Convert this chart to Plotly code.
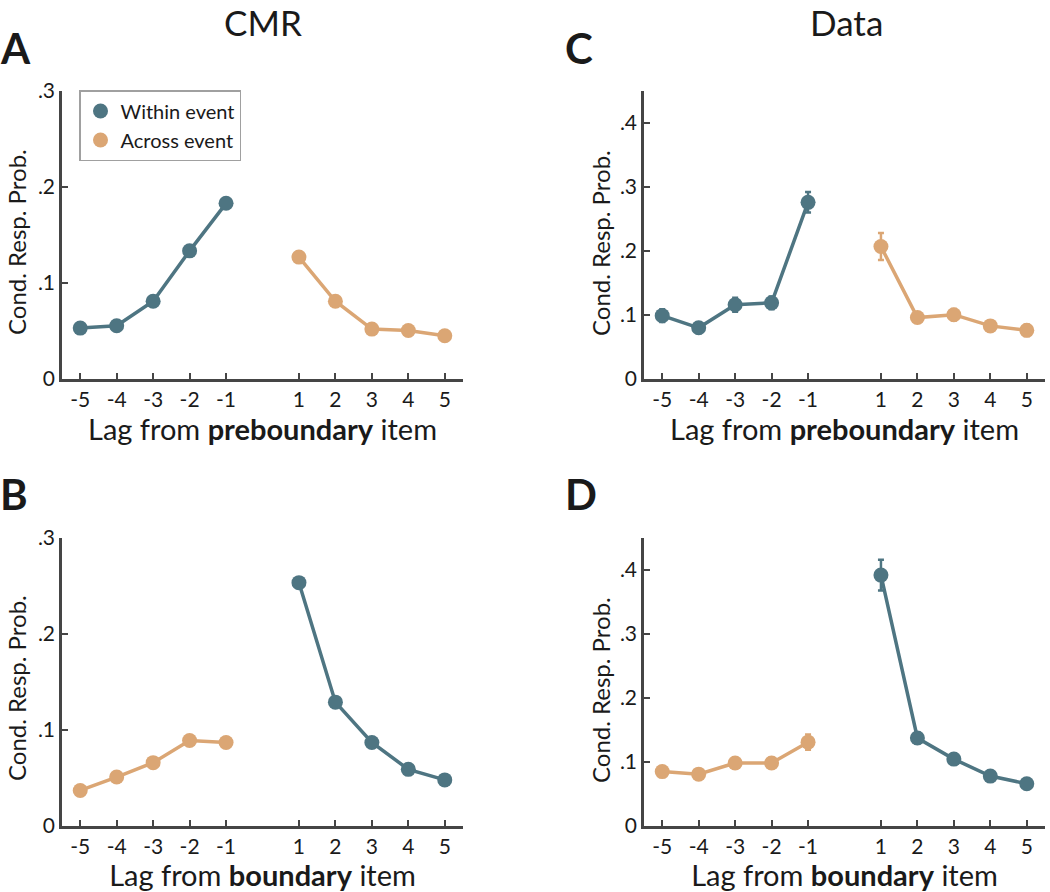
import plotly.graph_objects as go

# ---------------- data ----------------
lags_neg = [-5, -4, -3, -2, -1]
lags_pos = [1, 2, 3, 4, 5]
x_ticks = [-5, -4, -3, -2, -1, 1, 2, 3, 4, 5]

# Panel A: CMR, lag from preboundary item
A_within = [0.053, 0.0555, 0.081, 0.1335, 0.183]   # lags -5..-1
A_across = [0.127, 0.081, 0.052, 0.0505, 0.045]    # lags 1..5

# Panel B: CMR, lag from boundary item
B_across = [0.037, 0.051, 0.066, 0.089, 0.087]     # lags -5..-1
B_within = [0.2535, 0.129, 0.087, 0.059, 0.048]    # lags 1..5

# Panel C: Data, lag from preboundary item
C_within = [0.099, 0.080, 0.116, 0.119, 0.276]
C_within_err = [0.010, 0.008, 0.011, 0.010, 0.016]
C_across = [0.207, 0.096, 0.1005, 0.083, 0.076]
C_across_err = [0.021, 0.007, 0.009, 0.008, 0.009]

# Panel D: Data, lag from boundary item
D_across = [0.085, 0.081, 0.0985, 0.0985, 0.131]
D_across_err = [0.007, 0.007, 0.008, 0.008, 0.012]
D_within = [0.392, 0.1375, 0.1045, 0.078, 0.066]
D_within_err = [0.024, 0.009, 0.007, 0.005, 0.005]

cmr_yticks = [0, 0.1, 0.2, 0.3]
cmr_yticktext = ["0", ".1", ".2", ".3"]
data_yticks = [0, 0.1, 0.2, 0.3, 0.4]
data_yticktext = ["0", ".1", ".2", ".3", ".4"]

Y_TITLE = "Cond. Resp. Prob."

# ---------------- style ----------------
W, H = 1050, 892
TEAL = "#4e7582"
TAN = "#dba674"
AXC = "#454545"
TXT = "#1a1a1a"
FONT = "Lato"

def px_x(a, b):
    return [a / W, b / W]

def px_y(top, bottom):
    return [1 - bottom / H, 1 - top / H]

fig = go.Figure()

panels = [
    ("", px_x(62, 463), px_y(91, 379), [0, 0.3], cmr_yticks, cmr_yticktext,
     [(lags_neg, A_within, None, TEAL), (lags_pos, A_across, None, TAN)],
     "Lag from <b>preboundary</b> item"),
    ("2", px_x(644, 1045), px_y(91, 379), [0, 0.45], data_yticks, data_yticktext,
     [(lags_neg, C_within, C_within_err, TEAL), (lags_pos, C_across, C_across_err, TAN)],
     "Lag from <b>preboundary</b> item"),
    ("3", px_x(62, 463), px_y(538, 826), [0, 0.3], cmr_yticks, cmr_yticktext,
     [(lags_neg, B_across, None, TAN), (lags_pos, B_within, None, TEAL)],
     "Lag from <b>boundary</b> item"),
    ("4", px_x(644, 1045), px_y(538, 826), [0, 0.45], data_yticks, data_yticktext,
     [(lags_neg, D_across, D_across_err, TAN), (lags_pos, D_within, D_within_err, TEAL)],
     "Lag from <b>boundary</b> item"),
]

for name, xd, yd, yr, yt, ytt, series, xtitle in panels:
    xa = "x" + name
    ya = "y" + name
    for xs, ys, errs, col in series:
        tr = dict(
            x=xs, y=ys, mode="lines+markers", xaxis=xa, yaxis=ya,
            line=dict(color=col, width=3.5),
            marker=dict(color=col, size=15),
            showlegend=False, hoverinfo="x+y",
        )
        if errs is not None:
            tr["error_y"] = dict(type="data", array=errs, visible=True,
                                 color=col, thickness=2.5, width=3)
        fig.add_trace(go.Scatter(**tr))

    axis_common = dict(
        showline=True, linecolor=AXC, linewidth=2.5,
        ticks="inside", tickcolor=AXC, tickwidth=2, ticklen=6,
        showgrid=False, zeroline=False, automargin=False,
        tickfont=dict(family=FONT, size=21, color=TXT),
    )
    fig.layout["xaxis" + name] = dict(
        domain=xd, anchor=ya, range=[-5.5, 5.5],
        tickmode="array", tickvals=x_ticks, ticktext=[str(v) for v in x_ticks],
        ticklabelstandoff=0,
        title=dict(text=xtitle, font=dict(family=FONT, size=29, color=TXT), standoff=2),
        **axis_common,
    )
    fig.layout["yaxis" + name] = dict(
        domain=yd, anchor=xa, range=yr,
        tickmode="array", tickvals=yt, ticktext=ytt,
        ticklabelstandoff=0,
        **axis_common,
    )

# legend-only entries (marker symbols only, as in the original)
fig.add_trace(go.Scatter(x=[None], y=[None], mode="markers", name="Within event",
                         marker=dict(color=TEAL, size=15), xaxis="x", yaxis="y"))
fig.add_trace(go.Scatter(x=[None], y=[None], mode="markers", name="Across event",
                         marker=dict(color=TAN, size=15), xaxis="x", yaxis="y"))

annotations = [
    dict(text="CMR", x=263 / W, y=1 - 22 / H, xref="paper", yref="paper",
         showarrow=False, font=dict(family=FONT, size=35, color=TXT),
         xanchor="center", yanchor="middle"),
    dict(text="Data", x=846 / W, y=1 - 22 / H, xref="paper", yref="paper",
         showarrow=False, font=dict(family=FONT, size=35, color=TXT),
         xanchor="center", yanchor="middle"),
]
for letter, lx, ly in [("A", -2, 48), ("C", 563, 48), ("B", -2, 494), ("D", 563, 494)]:
    annotations.append(dict(
        text="<b>" + letter + "</b>", x=lx / W, y=1 - ly / H, xref="paper", yref="paper",
        showarrow=False, font=dict(family=FONT, size=42, color=TXT),
        xanchor="left", yanchor="middle"))
# y-axis titles
for tx, ty in [(16, 242), (600, 243), (16, 688), (600, 690)]:
    annotations.append(dict(
        text=Y_TITLE, x=tx / W, y=1 - ty / H, xref="paper", yref="paper",
        showarrow=False, textangle=-90, font=dict(family=FONT, size=24, color=TXT),
        xanchor="center", yanchor="middle"))

fig.update_layout(
    template="none",
    width=W, height=H,
    margin=dict(l=0, r=0, t=0, b=0, pad=0, autoexpand=False),
    paper_bgcolor="white", plot_bgcolor="white",
    font=dict(family=FONT, color=TXT),
    annotations=annotations,
    legend=dict(
        x=79 / W, y=1 - 90 / H, xanchor="left", yanchor="top",
        bordercolor="#a0a0a0", borderwidth=1.5, bgcolor="white",
        font=dict(family=FONT, size=20, color=TXT),
        itemwidth=30, tracegroupgap=0,
    ),
)

fig.write_html(
    "out.html",
    config={"displayModeBar": False},
    post_script="document.body.style.margin='0';document.body.style.overflow='hidden';",
)
